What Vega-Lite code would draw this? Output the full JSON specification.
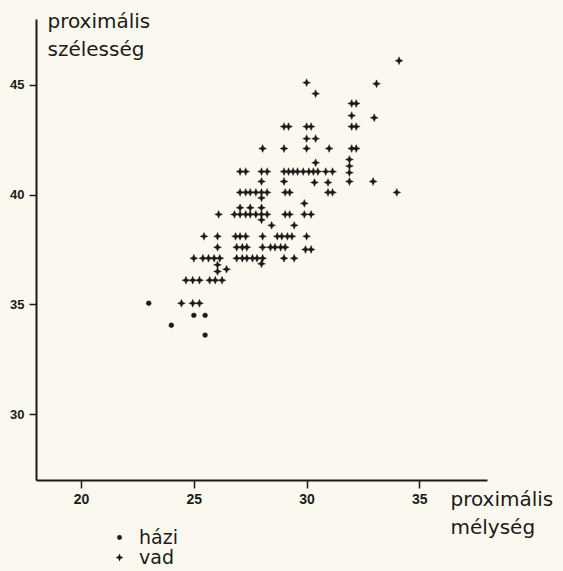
{
  "$schema": "https://vega.github.io/schema/vega-lite/v6.json",
  "width": 451,
  "height": 461,
  "autosize": {"type": "none"},
  "padding": {"left": 36, "top": 19, "right": 76, "bottom": 91},
  "background": "#fbf9ef",
  "config": {
    "view": {"stroke": null},
    "font": "DejaVu Sans"
  },
  "data": {
    "values": [
      {"m": 23.0, "s": 35.05, "t": "házi"},
      {"m": 25.0, "s": 34.5, "t": "házi"},
      {"m": 25.5, "s": 34.5, "t": "házi"},
      {"m": 24.0, "s": 34.05, "t": "házi"},
      {"m": 25.5, "s": 33.6, "t": "házi"},
      {"m": 34.1, "s": 46.1, "t": "vad"},
      {"m": 30.0, "s": 45.1, "t": "vad"},
      {"m": 33.1, "s": 45.05, "t": "vad"},
      {"m": 30.4, "s": 44.6, "t": "vad"},
      {"m": 32.0, "s": 44.15, "t": "vad"},
      {"m": 32.2, "s": 44.15, "t": "vad"},
      {"m": 32.0, "s": 43.6, "t": "vad"},
      {"m": 33.0, "s": 43.5, "t": "vad"},
      {"m": 29.0, "s": 43.1, "t": "vad"},
      {"m": 29.2, "s": 43.1, "t": "vad"},
      {"m": 30.0, "s": 43.1, "t": "vad"},
      {"m": 30.2, "s": 43.1, "t": "vad"},
      {"m": 32.0, "s": 43.1, "t": "vad"},
      {"m": 32.2, "s": 43.1, "t": "vad"},
      {"m": 30.0, "s": 42.55, "t": "vad"},
      {"m": 30.4, "s": 42.55, "t": "vad"},
      {"m": 28.05, "s": 42.1, "t": "vad"},
      {"m": 29.0, "s": 42.1, "t": "vad"},
      {"m": 30.0, "s": 42.1, "t": "vad"},
      {"m": 31.0, "s": 42.1, "t": "vad"},
      {"m": 32.0, "s": 42.1, "t": "vad"},
      {"m": 32.2, "s": 42.1, "t": "vad"},
      {"m": 30.4, "s": 41.45, "t": "vad"},
      {"m": 31.9, "s": 41.6, "t": "vad"},
      {"m": 31.9, "s": 41.3, "t": "vad"},
      {"m": 27.05, "s": 41.05, "t": "vad"},
      {"m": 27.3, "s": 41.05, "t": "vad"},
      {"m": 28.0, "s": 41.05, "t": "vad"},
      {"m": 28.25, "s": 41.05, "t": "vad"},
      {"m": 29.0, "s": 41.05, "t": "vad"},
      {"m": 29.2, "s": 41.05, "t": "vad"},
      {"m": 29.4, "s": 41.05, "t": "vad"},
      {"m": 29.6, "s": 41.05, "t": "vad"},
      {"m": 29.85, "s": 41.05, "t": "vad"},
      {"m": 30.1, "s": 41.05, "t": "vad"},
      {"m": 30.3, "s": 41.05, "t": "vad"},
      {"m": 30.5, "s": 41.05, "t": "vad"},
      {"m": 30.85, "s": 41.05, "t": "vad"},
      {"m": 31.15, "s": 41.05, "t": "vad"},
      {"m": 31.9, "s": 41.0, "t": "vad"},
      {"m": 28.0, "s": 40.6, "t": "vad"},
      {"m": 29.0, "s": 40.6, "t": "vad"},
      {"m": 30.35, "s": 40.55, "t": "vad"},
      {"m": 30.95, "s": 40.55, "t": "vad"},
      {"m": 31.9, "s": 40.6, "t": "vad"},
      {"m": 32.95, "s": 40.6, "t": "vad"},
      {"m": 27.05, "s": 40.1, "t": "vad"},
      {"m": 27.3, "s": 40.1, "t": "vad"},
      {"m": 27.5, "s": 40.1, "t": "vad"},
      {"m": 27.75, "s": 40.1, "t": "vad"},
      {"m": 28.0, "s": 40.1, "t": "vad"},
      {"m": 28.25, "s": 40.1, "t": "vad"},
      {"m": 29.05, "s": 40.1, "t": "vad"},
      {"m": 29.25, "s": 40.1, "t": "vad"},
      {"m": 30.95, "s": 40.1, "t": "vad"},
      {"m": 31.15, "s": 40.1, "t": "vad"},
      {"m": 34.0, "s": 40.1, "t": "vad"},
      {"m": 28.0, "s": 39.85, "t": "vad"},
      {"m": 29.9, "s": 39.6, "t": "vad"},
      {"m": 27.05, "s": 39.4, "t": "vad"},
      {"m": 27.5, "s": 39.4, "t": "vad"},
      {"m": 28.0, "s": 39.4, "t": "vad"},
      {"m": 26.1, "s": 39.1, "t": "vad"},
      {"m": 26.8, "s": 39.1, "t": "vad"},
      {"m": 27.05, "s": 39.1, "t": "vad"},
      {"m": 27.3, "s": 39.1, "t": "vad"},
      {"m": 27.5, "s": 39.1, "t": "vad"},
      {"m": 27.75, "s": 39.1, "t": "vad"},
      {"m": 28.0, "s": 39.1, "t": "vad"},
      {"m": 28.25, "s": 39.1, "t": "vad"},
      {"m": 29.05, "s": 39.1, "t": "vad"},
      {"m": 29.25, "s": 39.1, "t": "vad"},
      {"m": 29.9, "s": 39.1, "t": "vad"},
      {"m": 30.2, "s": 39.1, "t": "vad"},
      {"m": 28.0, "s": 38.85, "t": "vad"},
      {"m": 28.45, "s": 38.6, "t": "vad"},
      {"m": 29.45, "s": 38.6, "t": "vad"},
      {"m": 25.45, "s": 38.1, "t": "vad"},
      {"m": 26.05, "s": 38.1, "t": "vad"},
      {"m": 26.85, "s": 38.1, "t": "vad"},
      {"m": 27.05, "s": 38.1, "t": "vad"},
      {"m": 27.3, "s": 38.1, "t": "vad"},
      {"m": 28.05, "s": 38.1, "t": "vad"},
      {"m": 28.7, "s": 38.1, "t": "vad"},
      {"m": 28.9, "s": 38.1, "t": "vad"},
      {"m": 29.15, "s": 38.1, "t": "vad"},
      {"m": 29.35, "s": 38.1, "t": "vad"},
      {"m": 30.0, "s": 38.1, "t": "vad"},
      {"m": 26.05, "s": 37.6, "t": "vad"},
      {"m": 26.9, "s": 37.6, "t": "vad"},
      {"m": 27.15, "s": 37.6, "t": "vad"},
      {"m": 27.35, "s": 37.6, "t": "vad"},
      {"m": 28.05, "s": 37.6, "t": "vad"},
      {"m": 28.4, "s": 37.6, "t": "vad"},
      {"m": 28.6, "s": 37.6, "t": "vad"},
      {"m": 28.85, "s": 37.6, "t": "vad"},
      {"m": 29.05, "s": 37.6, "t": "vad"},
      {"m": 29.95, "s": 37.5, "t": "vad"},
      {"m": 30.2, "s": 37.5, "t": "vad"},
      {"m": 25.0, "s": 37.1, "t": "vad"},
      {"m": 25.4, "s": 37.1, "t": "vad"},
      {"m": 25.65, "s": 37.1, "t": "vad"},
      {"m": 25.9, "s": 37.1, "t": "vad"},
      {"m": 26.15, "s": 37.1, "t": "vad"},
      {"m": 26.9, "s": 37.1, "t": "vad"},
      {"m": 27.15, "s": 37.1, "t": "vad"},
      {"m": 27.35, "s": 37.1, "t": "vad"},
      {"m": 27.6, "s": 37.1, "t": "vad"},
      {"m": 27.8, "s": 37.1, "t": "vad"},
      {"m": 28.05, "s": 37.1, "t": "vad"},
      {"m": 29.0, "s": 37.1, "t": "vad"},
      {"m": 29.45, "s": 37.1, "t": "vad"},
      {"m": 28.0, "s": 36.85, "t": "vad"},
      {"m": 26.05, "s": 36.8, "t": "vad"},
      {"m": 26.45, "s": 36.6, "t": "vad"},
      {"m": 26.05, "s": 36.5, "t": "vad"},
      {"m": 24.65, "s": 36.1, "t": "vad"},
      {"m": 24.95, "s": 36.1, "t": "vad"},
      {"m": 25.25, "s": 36.1, "t": "vad"},
      {"m": 25.7, "s": 36.1, "t": "vad"},
      {"m": 25.95, "s": 36.1, "t": "vad"},
      {"m": 26.25, "s": 36.1, "t": "vad"},
      {"m": 24.45, "s": 35.05, "t": "vad"},
      {"m": 24.95, "s": 35.05, "t": "vad"},
      {"m": 25.25, "s": 35.05, "t": "vad"}
    ]
  },
  "mark": {"type": "point", "filled": true, "opacity": 1, "color": "#1c1a18", "stroke": "#1c1a18", "strokeWidth": 0.4},
  "encoding": {
    "x": {
      "field": "m", "type": "quantitative",
      "scale": {"domain": [18, 38], "nice": false, "zero": false},
      "axis": {
        "values": [20, 25, 30, 35],
        "grid": false,
        "title": ["proximális", "mélység"],
        "titleFont": "DejaVu Sans", "titleFontSize": 20, "titleFontWeight": "normal",
        "titleColor": "#1c1a18",
        "titleAngle": 0, "titleAlign": "left", "titleBaseline": "alphabetic",
        "titleX": 414, "titleY": 25, "titleLineHeight": 28,
        "domainColor": "#1c1a18", "domainWidth": 2,
        "tickColor": "#1c1a18", "tickWidth": 1.5, "tickSize": 8,
        "labelFont": "Liberation Sans", "labelFontWeight": "bold", "labelFontSize": 14,
        "labelColor": "#1c1a18", "labelPadding": 4
      }
    },
    "y": {
      "field": "s", "type": "quantitative",
      "scale": {"domain": [27, 48], "nice": false, "zero": false},
      "axis": {
        "values": [30, 35, 40, 45],
        "grid": false,
        "title": ["proximális", "szélesség"],
        "titleFont": "DejaVu Sans", "titleFontSize": 20, "titleFontWeight": "normal",
        "titleColor": "#1c1a18",
        "titleAngle": 0, "titleAlign": "left", "titleBaseline": "alphabetic",
        "titleX": 11, "titleY": 8, "titleLineHeight": 28,
        "domainColor": "#1c1a18", "domainWidth": 2,
        "tickColor": "#1c1a18", "tickWidth": 1.5, "tickSize": 7,
        "labelFont": "Liberation Sans", "labelFontWeight": "bold", "labelFontSize": 13,
        "labelColor": "#1c1a18", "labelPadding": 5
      }
    },
    "shape": {
      "field": "t", "type": "nominal",
      "scale": {"domain": ["házi", "vad"], "range": ["circle", "M0,-1L0.3,-0.3L1,0L0.3,0.3L0,1L-0.3,0.3L-1,0L-0.3,-0.3Z"]},
      "legend": {
        "orient": "none", "legendX": 74, "legendY": 509, "title": null,
        "labelFont": "DejaVu Sans", "labelFontSize": 19, "labelColor": "#1c1a18",
        "labelOffset": 10, "rowPadding": -2, "symbolFillColor": "#1c1a18", "symbolStrokeColor": "#1c1a18", "symbolStrokeWidth": 0.4
      }
    },
    "size": {
      "field": "t", "type": "nominal",
      "scale": {"domain": ["házi", "vad"], "range": [24, 62]},
      "legend": {
        "orient": "none", "legendX": 74, "legendY": 509, "title": null,
        "labelFont": "DejaVu Sans", "labelFontSize": 19, "labelColor": "#1c1a18",
        "labelOffset": 10, "rowPadding": -2, "symbolFillColor": "#1c1a18", "symbolStrokeColor": "#1c1a18", "symbolStrokeWidth": 0.4
      }
    }
  }
}
